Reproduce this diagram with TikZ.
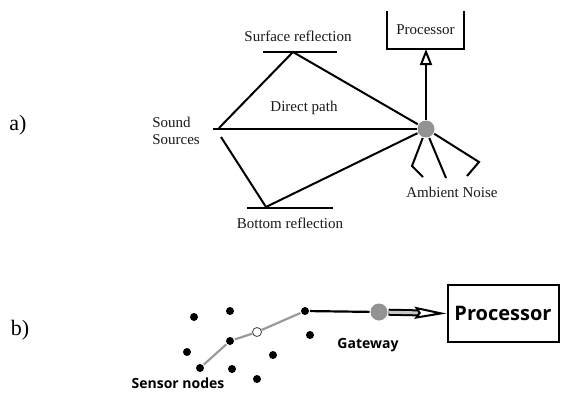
\documentclass[tikz,border=0pt]{standalone}
\usepackage{fontspec}
\setmainfont{Liberation Serif}
\newfontfamily\osans{Open Sans}
\usetikzlibrary{arrows.meta}
\begin{document}
\begin{tikzpicture}[x=1pt,y=-1pt,line width=2pt,
  lbl/.style={font=\fontsize{15}{17}\selectfont, text=black!90, inner sep=0pt},
  sublbl/.style={font=\fontsize{22}{24}\selectfont, inner sep=0pt},
  sanslbl/.style={font=\osans\bfseries\fontsize{14}{16}\selectfont, inner sep=0pt},
  dot/.style={circle, fill=black, inner sep=0pt, minimum size=8pt},
  bar/.style={line width=2pt}]
\useasboundingbox (0,0) rectangle (562,392);
% ---------- a) ----------
\node[sublbl] (la) at (18,125) {a)};
\node[lbl, align=left] (src) at (176,131) {Sound\\Sources};
\coordinate (srcpt) at (213,129);
\coordinate (srcup) at (219,128);
\coordinate (srclow) at (221,137);
\coordinate (surf) at (293,52);
\coordinate (surfL) at (263,52);
\coordinate (surfR) at (337,52);
\coordinate (bot) at (266,207);
\coordinate (botL) at (247,208);
\coordinate (botR) at (333,208);
\node[lbl] (surftxt) at (298,36) {Surface reflection};
\node[lbl] (bottxt) at (290,223) {Bottom reflection};
\node[lbl] (dirtxt) at (304,108) {Direct path};
\node[circle, fill=gray!85, inner sep=0pt, minimum size=17pt] (mic) at (426,129) {};
\node[lbl, minimum width=75pt, minimum height=36pt] (procA) at (425.5,30) {Processor};
\node[lbl] (noise) at (452,192) {Ambient Noise};
\draw[bar] (surfL) -- (surfR);
\draw[bar] (botL) -- (botR);
\draw (srcup) -- (surf) -- (mic);
\draw (srcpt) -- (mic);
\draw (srclow) -- (bot) -- (mic);
\draw (procA.north west) -- (procA.south west) -- (procA.south east) -- (procA.north east);
\draw[-{Triangle[open,length=16pt,width=12pt,line width=2pt]}] (mic.north) -- (mic.north |- procA.south);
\draw (mic.250) -- (412,166) -- (423,177);
\draw (mic.290) -- (446,178);
\draw (mic.330) -- (479,162) -- (467,176);
% ---------- b) ----------
\node[sublbl] (lb) at (20,330) {b)};
\node[dot] (d1) at (194,317) {};
\node[dot] (d2) at (230,311) {};
\node[dot] (p3) at (305,311) {};
\node[circle, draw=black!75, fill=white, line width=0.8pt, inner sep=0pt, minimum size=9pt] (w) at (257,332) {};
\node[dot] (p1) at (230,341) {};
\node[dot] (d3) at (187,352) {};
\node[dot] (d4) at (310,335) {};
\node[dot] (d5) at (273,355) {};
\node[dot] (p0) at (200,368) {};
\node[dot] (d6) at (232,369) {};
\node[dot] (d7) at (257,379) {};
\node[circle, fill=gray!85, inner sep=0pt, minimum size=17pt] (gw) at (379,312) {};
\node[draw, line width=2pt, minimum width=111pt, minimum height=57pt,
      font=\osans\bfseries\fontsize{20}{24}\selectfont] (procB) at (503,313.5) {Processor};
\node[sanslbl] (gwtxt) at (368,345) {Gateway};
\node[sanslbl] (sntxt) at (178,383) {Sensor nodes};
\draw[gray!80, line width=2.2pt] (p0) -- (p1) -- (w) -- (p3);
\draw[line width=2.2pt] (p3) -- (gw);
\draw[double=gray!45, double distance=3pt, line width=2pt,
      -{Stealth[length=32pt,width=12pt,inset=4pt,open,fill=white,line width=2pt]}] (gw) -- (procB.west);
\end{tikzpicture}
\end{document}
